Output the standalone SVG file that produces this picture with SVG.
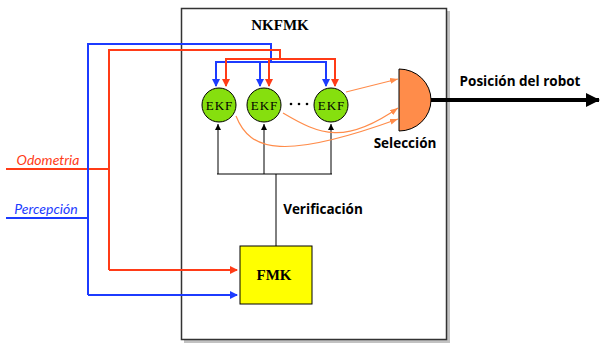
<svg xmlns="http://www.w3.org/2000/svg" width="600" height="343" viewBox="0 0 600 343">
<style>
.lbl{font-family:"Open Sans",Lato,"Liberation Sans",sans-serif;font-weight:bold;font-size:13.5px;fill:#000}
.ser{font-family:"Liberation Serif","DejaVu Serif",serif;fill:#000}
.ekt{font-family:"Liberation Serif","DejaVu Serif",serif;fill:#000;font-size:13px;letter-spacing:1px}
.in{font-family:Lato,"Open Sans","Liberation Sans",sans-serif;font-style:italic;font-size:14px}
.ekf{fill:#86DF0E;stroke:#000;stroke-width:1}
.red{stroke:#FF3B17;stroke-width:2;fill:none}
.blue{stroke:#1C3BFF;stroke-width:2;fill:none}
.blk{stroke:#000;stroke-width:1;fill:none}
.org{stroke:#FF8C4A;stroke-width:1.2;fill:none}
</style>
<defs>
<marker id="aR" markerWidth="8" markerHeight="8" refX="7" refY="4" orient="auto" markerUnits="userSpaceOnUse"><path d="M0,0 L8,4 L0,8 Z" fill="#FF3B17"/></marker>
<marker id="aB" markerWidth="8" markerHeight="8" refX="7" refY="4" orient="auto" markerUnits="userSpaceOnUse"><path d="M0,0 L8,4 L0,8 Z" fill="#1C3BFF"/></marker>
<marker id="aK" markerWidth="6" markerHeight="6" refX="6" refY="3" orient="auto" markerUnits="userSpaceOnUse"><path d="M0,0 L6,3 L0,6 Z" fill="#000"/></marker>
<marker id="aO" markerWidth="8" markerHeight="6" refX="8" refY="3" orient="auto" markerUnits="userSpaceOnUse"><path d="M0,0 L8,3 L0,6 Z" fill="#FF8C4A"/></marker>
<marker id="aBig" markerWidth="14" markerHeight="14" refX="13" refY="7" orient="auto" markerUnits="userSpaceOnUse"><path d="M0,0 L14,7 L0,14 Z" fill="#000"/></marker>
</defs>

<g id="nkfmk">
<rect x="184" y="11" width="266" height="332" fill="#999" opacity="0.6"/>
<rect x="181.5" y="8.5" width="265" height="331" fill="#fff" stroke="#333" stroke-width="1.5"/>
<text x="280" y="30" text-anchor="middle" class="ser" font-weight="bold" font-size="15">NKFMK</text>
</g>

<g id="connectors">
<polyline class="red" points="6,169 109,169"/>
<polyline class="blue" points="6,218 88,218"/>
<polyline class="blue" points="88,295 88,44 271,44 271,62"/>
<polyline class="red" points="109,270 109,50 280,50 280,59"/>
<polyline class="blue" points="215,62 327,62"/>
<polyline class="red" points="225,59 336,59"/>
<line class="blue" x1="216" y1="62" x2="216" y2="86" marker-end="url(#aB)"/>
<line class="blue" x1="260" y1="62" x2="260" y2="86" marker-end="url(#aB)"/>
<line class="blue" x1="326" y1="62" x2="326" y2="86" marker-end="url(#aB)"/>
<line class="red" x1="226" y1="59" x2="226" y2="86" marker-end="url(#aR)"/>
<line class="red" x1="269" y1="59" x2="269" y2="86" marker-end="url(#aR)"/>
<line class="red" x1="335" y1="59" x2="335" y2="86" marker-end="url(#aR)"/>
<polyline class="red" points="109,270 237,270" marker-end="url(#aR)"/>
<polyline class="blue" points="88,295 237,295" marker-end="url(#aB)"/>
<polyline class="blk" points="276,246 276,174"/>
<polyline class="blk" points="217,174 332,174"/>
<line class="blk" x1="218" y1="174" x2="218" y2="124" marker-end="url(#aK)"/>
<line class="blk" x1="264" y1="174" x2="264" y2="124" marker-end="url(#aK)"/>
<line class="blk" x1="331" y1="174" x2="331" y2="124" marker-end="url(#aK)"/>
<line class="org" x1="346" y1="92" x2="398" y2="79" marker-end="url(#aO)"/>
<path class="org" d="M236,116 C250,152 285,160 398,119" marker-end="url(#aO)"/>
<path class="org" d="M283,113 C320,135 345,145 398,108" marker-end="url(#aO)"/>
<line x1="431" y1="100" x2="599" y2="100" stroke="#000" stroke-width="4" marker-end="url(#aBig)"/>
</g>

<g id="ekf1"><circle class="ekf" cx="219" cy="105" r="17"/><text x="219.5" y="109.5" text-anchor="middle" class="ekt">EKF</text></g>
<g id="ekf2"><circle class="ekf" cx="264" cy="105" r="17"/><text x="264.5" y="109.5" text-anchor="middle" class="ekt">EKF</text></g>
<g id="dots" fill="#000"><circle cx="291" cy="104" r="1.3"/><circle cx="299" cy="104" r="1.3"/><circle cx="307" cy="104" r="1.3"/></g>
<g id="ekf3"><circle class="ekf" cx="331" cy="105" r="17"/><text x="331.5" y="109.5" text-anchor="middle" class="ekt">EKF</text></g>

<g id="seleccion">
<path d="M399,69 A32,31 0 0 1 399,131 Z" fill="#FF8C4A" stroke="#000" stroke-width="1"/>
<text x="405" y="148" text-anchor="middle" class="lbl">Selección</text>
</g>

<g id="fmk">
<rect x="240" y="246" width="72" height="58" fill="#FFFF00" stroke="#000" stroke-width="1"/>
<text x="274" y="280" text-anchor="middle" class="ser" font-weight="bold" font-size="15">FMK</text>
</g>

<text x="323" y="214" text-anchor="middle" class="lbl">Verificación</text>
<text x="520" y="86" text-anchor="middle" class="lbl">Posición del robot</text>
<text x="48" y="165" text-anchor="middle" class="in" fill="#FF3B17">Odometria</text>
<text x="46" y="214" text-anchor="middle" class="in" fill="#1C3BFF">Percepción</text>
</svg>
